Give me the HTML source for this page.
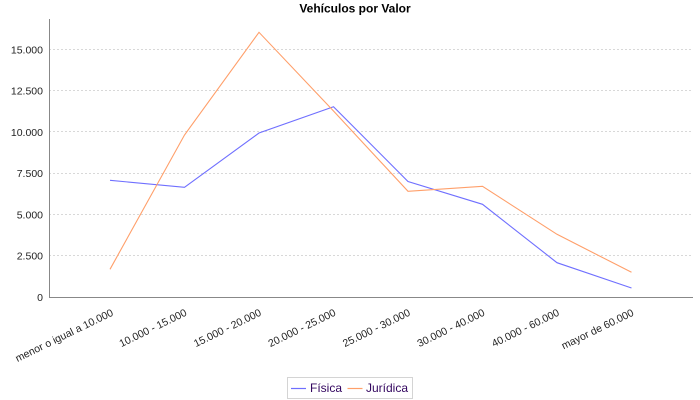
<!DOCTYPE html>
<html>
<head>
<meta charset="utf-8">
<style>
  html,body{margin:0;padding:0;background:#fff;}
  svg{display:block;}
  text{font-family:"Liberation Sans", sans-serif;}
</style>
</head>
<body>
<svg width="700" height="400" viewBox="0 0 700 400" xmlns="http://www.w3.org/2000/svg">
  <rect x="0" y="0" width="700" height="400" fill="#ffffff"/>
  <!-- title -->
  <text x="355" y="12.5" text-anchor="middle" font-size="12" font-weight="bold" fill="#000">Vehículos por Valor</text>

  <!-- gridlines -->
  <g stroke="#d8d8d8" stroke-width="1" stroke-dasharray="2,2">
    <line x1="49" y1="49.5" x2="693" y2="49.5"/>
    <line x1="49" y1="90.5" x2="693" y2="90.5"/>
    <line x1="49" y1="131.5" x2="693" y2="131.5"/>
    <line x1="49" y1="173.5" x2="693" y2="173.5"/>
    <line x1="49" y1="214.5" x2="693" y2="214.5"/>
    <line x1="49" y1="255.5" x2="693" y2="255.5"/>
  </g>

  <!-- axes -->
  <line x1="49.5" y1="19" x2="49.5" y2="297.5" stroke="#888" stroke-width="1"/>
  <line x1="49" y1="297.5" x2="693" y2="297.5" stroke="#888" stroke-width="1"/>

  <!-- y tick labels -->
  <g font-size="10.5" fill="#222" text-anchor="end">
    <text x="43" y="53.3">15.000</text>
    <text x="43" y="94.6">12.500</text>
    <text x="43" y="135.9">10.000</text>
    <text x="43" y="177.2">7.500</text>
    <text x="43" y="218.4">5.000</text>
    <text x="43" y="259.7">2.500</text>
    <text x="43" y="301">0</text>
  </g>

  <!-- x labels -->
  <g font-size="10.5" fill="#222" text-anchor="end">
    <text x="114" y="315" transform="rotate(-26 114 315)">menor o igual a 10.000</text>
    <text x="187.5" y="315" transform="rotate(-26 187.5 315)">10.000 - 15.000</text>
    <text x="262" y="315" transform="rotate(-26 262 315)">15.000 - 20.000</text>
    <text x="336.5" y="315" transform="rotate(-26 336.5 315)">20.000 - 25.000</text>
    <text x="411" y="315" transform="rotate(-26 411 315)">25.000 - 30.000</text>
    <text x="485.5" y="315" transform="rotate(-26 485.5 315)">30.000 - 40.000</text>
    <text x="560" y="315" transform="rotate(-26 560 315)">40.000 - 60.000</text>
    <text x="634.5" y="315" transform="rotate(-26 634.5 315)">mayor de 60.000</text>
  </g>

  <!-- series -->
  <polyline fill="none" stroke="#6f6fff" stroke-width="1.1" stroke-linejoin="miter"
    points="110,180.3 184.5,187.3 259,133 333.5,106.7 408,181.5 482.5,204.3 557,262.7 631.5,288"/>
  <polyline fill="none" stroke="#ff9f6a" stroke-width="1.1" stroke-linejoin="miter"
    points="110,269.3 184.5,135 259,32.3 333.5,111 408,191.3 482.5,186.3 557,234.3 631.5,272.3"/>

  <!-- legend -->
  <rect x="287.5" y="377.5" width="125" height="21" fill="#fff" stroke="#d4d4d4" stroke-width="1"/>
  <line x1="291" y1="388.5" x2="306" y2="388.5" stroke="#6f6fff" stroke-width="1.2"/>
  <text x="310" y="392" font-size="12" fill="#33065f">Física</text>
  <line x1="347.5" y1="388.5" x2="362.5" y2="388.5" stroke="#ff9f6a" stroke-width="1.2"/>
  <text x="366" y="392" font-size="12" fill="#33065f">Jurídica</text>
</svg>
</body>
</html>
